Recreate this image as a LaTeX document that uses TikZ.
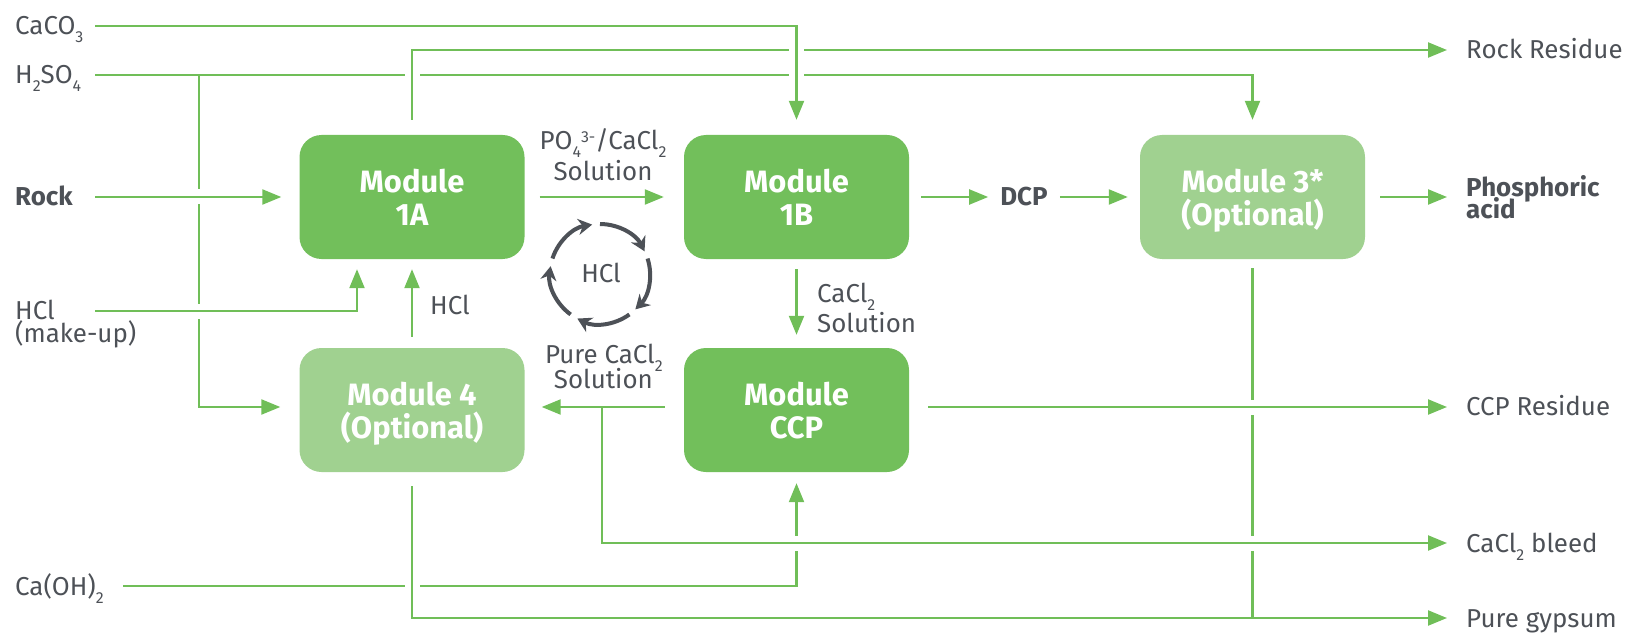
\documentclass[tikz,border=0pt]{standalone}
\usepackage{fontspec}
\setmainfont{Fira Sans}
\usetikzlibrary{arrows.meta,calc}
\definecolor{flowgreen}{HTML}{70BE58}
\definecolor{boxdark}{HTML}{72BF5B}
\definecolor{boxlight}{HTML}{A0D190}
\definecolor{txtgray}{HTML}{4D5157}
\newcommand{\mtop}{\rule{0pt}{31bp}}
\newcommand{\mbot}{\rule[-7bp]{0pt}{7bp}}
\newcommand{\sbs}[1]{\raisebox{-8bp}{\fontsize{16}{16}\selectfont #1}}
\newcommand{\sps}[1]{\raisebox{7bp}{\fontsize{16}{16}\selectfont #1}}
\newcommand{\gapOnH}[2]{\fill[white] (#1-7.5,#2-3) rectangle (#1+7.5,#2+3); \draw[flow] (#1,#2-10) -- (#1,#2+10);}
\newcommand{\gapOnV}[2]{\fill[white] (#1-3,#2-7.5) rectangle (#1+3,#2+7.5); \draw[flow] (#1-10,#2) -- (#1+10,#2);}
\begin{document}
\begin{tikzpicture}[x=1bp,y=-1bp,
  flow/.style={draw=flowgreen, line width=2.2bp},
  arr/.style={flow, -{Triangle[length=19bp,width=15bp]}},
  modbox/.style={rounded corners=22bp, minimum width=225bp, minimum height=124bp, text=white,
     font=\fontsize{31}{33}\selectfont\bfseries, align=center, inner sep=0pt},
  darkbox/.style={modbox, fill=boxdark},
  lightbox/.style={modbox, fill=boxlight},
  lbl/.style={text=txtgray, font=\fontsize{26}{26}\selectfont, inner sep=0pt},
  blbl/.style={text=txtgray, font=\fontsize{26}{26}\selectfont\bfseries, inner sep=0pt},
  cyc/.style={draw=txtgray, line width=4bp, -{Stealth[length=14bp,width=16bp]}}
]
\useasboundingbox (0,0) rectangle (1641,635);
\coordinate (r2) at (0,407);

% modules
\node[darkbox]  (m1a) at (412,197)    {\mtop Module\\1A\mbot};
\node[darkbox]  (m1b) at (796.5,197)  {\mtop Module\\1B\mbot};
\node[lightbox] (m3)  at (1252.5,197) {\mtop Module 3*\\(Optional)\mbot};
\node[lightbox] (m4)  at (412,410)    {\mtop Module 4\\(Optional)\mbot};
\node[darkbox]  (ccp) at (796.5,410)  {\mtop Module\\CCP\mbot};

% left labels
\node[lbl, anchor=base west]  (caco3)  at (15,35)  {CaCO\sbs{3}};
\node[lbl, anchor=base west]  (h2so4)  at (15,84)  {H\sbs{2}SO\sbs{4}};
\node[blbl, anchor=base west] (rock)   at (15,206) {Rock};
\node[lbl, anchor=base west]  (hcl)    at (15,319) {HCl};
\node[lbl, anchor=base west]  (makeup) at (15,342) {(make-up)};
\node[lbl, anchor=base west]  (caoh)   at (15,595) {Ca(OH)\sbs{2}};

% right labels
\node[lbl, anchor=base west]  (rres)   at (1466,59)  {Rock Residue};
\node[blbl, anchor=base west] (phos)   at (1466,197) {Phosphoric};
\node[blbl, anchor=base west] (acid)   at (1466,219) {acid};
\node[lbl, anchor=base west]  (ccpres) at (1466,415) {CCP Residue};
\node[lbl, anchor=base west]  (bleed)  at (1466,552) {CaCl\sbs{2} bleed};
\node[lbl, anchor=base west]  (gyp)    at (1466,627) {Pure gypsum};

% middle labels
\node[lbl, anchor=base]      (po1)   at (603,150) {PO\sbs{4}\sps{3-}/CaCl\sbs{2}};
\node[lbl, anchor=base]      (po2)   at (603,181) {Solution};
\node[blbl, anchor=base]     (dcp)   at (1024,206) {DCP};
\node[lbl, anchor=base west] (hclup) at (430,314) {HCl};
\node[lbl, anchor=base west] (cs1)   at (817,302) {CaCl\sbs{2}};
\node[lbl, anchor=base west] (cs2)   at (817,332) {Solution};
\node[lbl, anchor=base east] (pc1)   at (655,363) {Pure CaCl\rlap{\sbs{2}}};
\node[lbl, anchor=base east] (pc2)   at (653,388) {Solution};
\node[lbl, anchor=base]      (hclc)  at (601,282) {HCl};

% free ends
\coordinate (caco3S) at (95,26);
\coordinate (h2so4S) at (95,75);
\coordinate (rockS)  at (95,197);
\coordinate (hclS)   at (95,311);
\coordinate (caohS)  at (123,586);
\coordinate (h2j)    at (199,75);
\coordinate (bj)     at (602,407);
\coordinate (rrE)    at (1447,50);
\coordinate (phE)    at (1447,197);
\coordinate (ccpE)   at (1447,407);
\coordinate (bleedE) at (1447,543);
\coordinate (gypE)   at (1447,618);

% flows
\draw[arr] (caco3S) -| ($(m1b.north)+(0,-15)$);
\draw[arr] (h2so4S) -| ($(m3.north)+(0,-15)$);
\draw[arr] (h2j) |- ($(m4.west |- r2)+(-19,0)$);
\draw[arr] (rockS) -- ($(m1a.west)+(-18,0)$);
\draw[arr] ($(m1a.north)+(0,-15)$) |- (rrE);
\draw[arr] ($(m1a.east)+(15,0)$) -- ($(m1b.west)+(-20,0)$);
\draw[arr] ($(m1b.east)+(12,0)$) -- ($(m1b.east -| dcp.west)+(-12,0)$);
\draw[arr] ($(m1b.east -| dcp.east)+(12,0)$) -- ($(m3.west)+(-12,0)$);
\draw[arr] ($(m3.east)+(15,0)$) -- (phE);
\draw[arr] (hclS) -| ($(m1a.south)+(-55,10)$);
\draw[arr] ($(m4.north)+(0,-11)$) -- ($(m1a.south)+(0,10)$);
\draw[arr] ($(m1b.south)+(0,10)$) -- ($(ccp.north)+(0,-13)$);
\draw[arr] ($(ccp.west |- r2)+(-19,0)$) -- ($(m4.east |- r2)+(17,0)$);
\draw[arr] (bj) |- (bleedE);
\draw[arr] ($(ccp.east |- r2)+(19,0)$) -- (ccpE);
\draw[arr] (caohS) -| ($(ccp.south)+(0,11)$);
\draw[arr] ($(m4.south)+(0,14)$) |- (gypE);
\draw[flow] ($(m3.south)+(0,9)$) -- (m3.south |- gypE);

% crossings
\gapOnH{412}{75}
\gapOnH{796.5}{75}
\gapOnH{796.5}{50}
\gapOnH{412}{586}
\gapOnV{199}{197}
\gapOnV{199}{311}
\gapOnV{796.5}{543}
\gapOnV{1252.5}{407}
\gapOnV{1252.5}{543}

% HCl cycle
\begin{scope}[shift={(600,274)}, x=1bp, y=1bp]
  \foreach \k in {0,...,4} {
    \draw[cyc] ({90-72*\k}:50bp) arc[start angle={90-72*\k}, end angle={27-72*\k}, radius=50bp];
  }
\end{scope}
\end{tikzpicture}
\end{document}
